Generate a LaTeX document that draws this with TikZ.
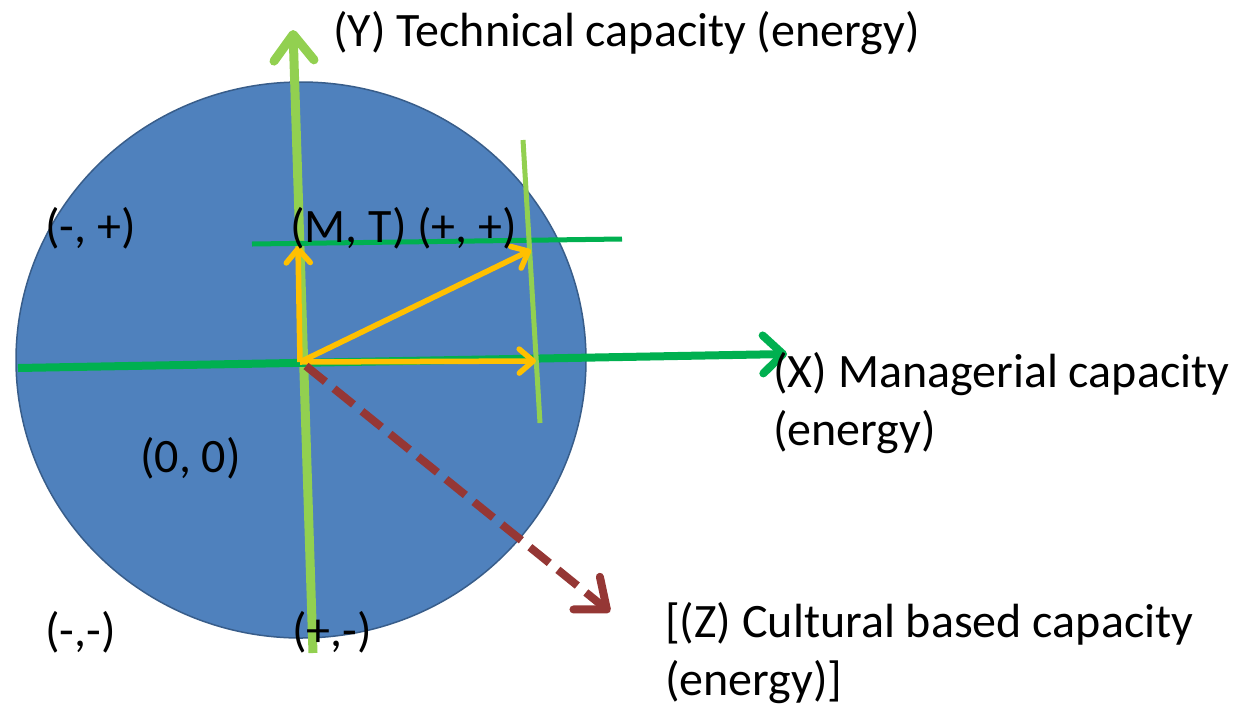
\documentclass[tikz,border=0pt]{standalone}
\usepackage{fontspec}
\setmainfont{Carlito}
\usepackage{tikz}
\usetikzlibrary{arrows.meta,positioning,shapes.geometric}
\definecolor{cDisc}{RGB}{79,129,189}
\definecolor{cDiscLine}{RGB}{56,93,138}
\definecolor{cAxis}{RGB}{0,176,80}
\definecolor{cLight}{RGB}{146,208,80}
\definecolor{cVec}{RGB}{255,192,0}
\definecolor{cZ}{RGB}{149,55,53}
\tikzset{
  disc/.style={draw=cDiscLine, fill=cDisc, line width=1.5pt},
  axisx/.style={draw=cAxis, line width=8pt,
                -{Straight Barb[length=20pt, width=38pt, line width=8pt, round]}},
  axisy/.style={draw=cLight, line width=9pt,
                -{Straight Barb[length=26pt, width=40pt, line width=9pt, round]}},
  guide/.style={line width=5pt},
  vec/.style={draw=cVec, line width=5.5pt,
              -{Straight Barb[length=14pt, width=24pt, line width=5.5pt, round]}},
  zaxis/.style={draw=cZ, line width=8pt, dash pattern=on 25pt off 11pt,
                -{Straight Barb[length=26pt, width=42pt, line width=8pt, round]}},
  lbl/.style={font=\fontsize{48}{58}\selectfont, inner sep=0pt, align=left, anchor=west},
}

\begin{document}
\begin{tikzpicture}[x=1pt, y=-1pt]
  \useasboundingbox (0,0) rectangle (1245,705);
  % the disc
  \node[disc, ellipse, minimum width=570pt, minimum height=556pt, inner sep=0pt] (disc) at (301,360) {};

  % points
  \coordinate (o)   at (300,362);
  \coordinate (xa)  at (18,368);
  \coordinate (xb)  at (787,354);
  \coordinate (ya)  at (313,653);
  \coordinate (yb)  at (293,30);
  \coordinate (ha)  at (252,244);
  \coordinate (hb)  at (622,239);
  \coordinate (va)  at (523,140);
  \coordinate (vb)  at (540,423);
  \coordinate (pm)  at (298,246);
  \coordinate (pmt) at (531,250);
  \coordinate (px)  at (536,361);
  \coordinate (zs)  at (306,366);
  \coordinate (ze)  at (610,612);

  % axes and guides
  \draw[axisy] (ya) -- (yb);
  \draw[axisx] (xa) -- (xb);
  \draw[guide, cAxis] (ha) -- (hb);
  \draw[guide, cLight] (va) -- (vb);

  % vectors
  \draw[vec] (o) -- (pm);
  \draw[vec] (o) -- (pmt);
  \draw[vec] (o) -- (px);
  \draw[zaxis] (zs) -- (ze);

  % labels
  \node[lbl] (ylab)  at (333,33)  {(Y) Technical capacity (energy)};
  \node[lbl] (xlab)  at (773,403) {(X) Managerial capacity\\(energy)};
  \node[lbl] (zlab)  at (665,653) {[(Z) Cultural based capacity\\(energy)]};
  \node[lbl] (qmp)   at (45,228)  {(-, +)};
  \node[lbl] (qpp)   at (290,228) {(M, T) (+, +)};
  \node[lbl] (orig)  at (140,458) {(0, 0)};
  \node[lbl] (qmm)   at (45,632)  {(-,-)};
  \node[lbl] (qpm)   at (292,632) {(+,-)};
\end{tikzpicture}
\end{document}
